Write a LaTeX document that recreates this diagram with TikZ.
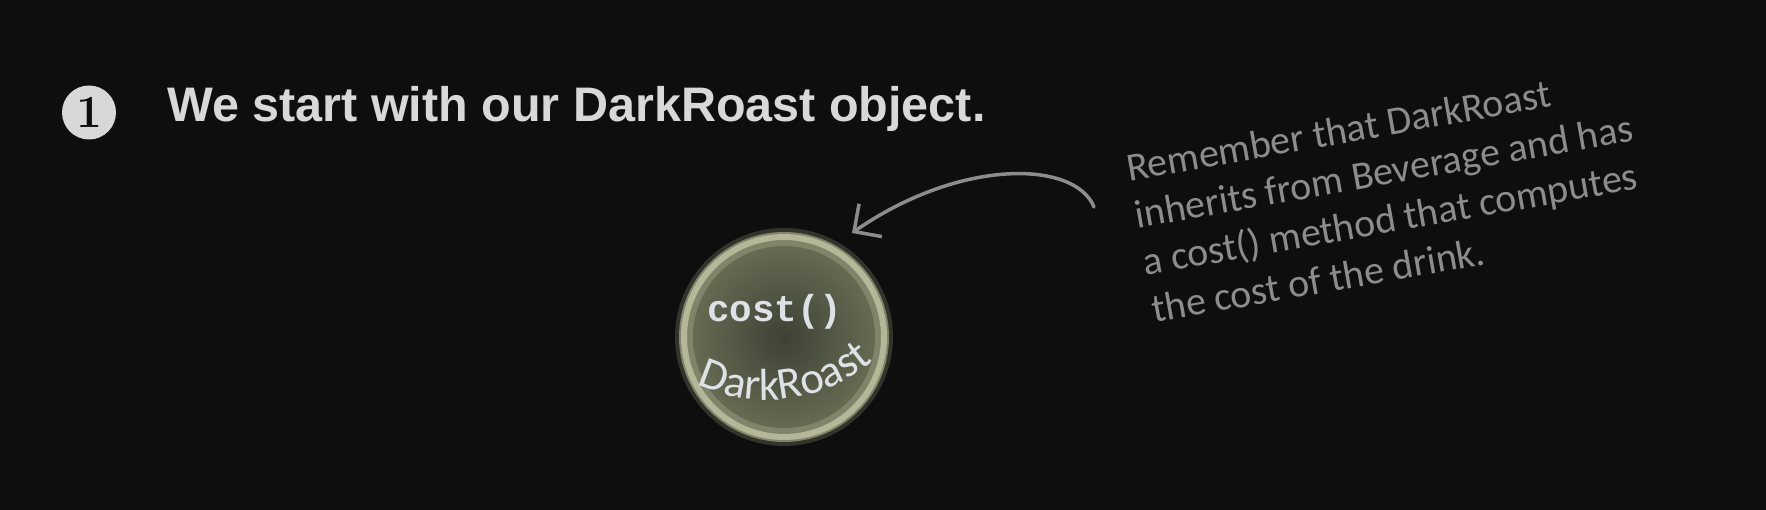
\documentclass[tikz,border=0pt]{standalone}
\usepackage{fontspec}
\usepackage{tikz}
\usetikzlibrary{arrows.meta, decorations.text}
\newfontfamily\headfont{Liberation Sans}
\newfontfamily\codefont{Liberation Mono}
\newfontfamily\handfont{Carlito}
\definecolor{bgdark}{HTML}{0E0E0E}
\definecolor{headgray}{HTML}{D8D8D8}
\definecolor{notegray}{HTML}{8C8C8C}
\definecolor{objhalo}{HTML}{4A4D3D}
\definecolor{objrim}{HTML}{C2C5A4}
\definecolor{objband}{HTML}{80846A}
\definecolor{objinner}{HTML}{3E4134}
\definecolor{objouter}{HTML}{666A52}
\definecolor{objtext}{HTML}{DDE2E6}

\begin{document}
\begin{tikzpicture}[x=1pt, y=1pt,
    stepdot/.style={circle, fill=headgray, minimum size=54pt, inner sep=0pt,
      font=\bfseries\fontsize{46}{46}\selectfont, text=bgdark},
    headline/.style={font=\headfont\bfseries\fontsize{48.5}{48.5}\selectfont,
      text=headgray, anchor=base west, inner sep=0pt},
    codelbl/.style={font=\codefont\bfseries\fontsize{37.5}{37.5}\selectfont,
      text=objtext, anchor=base west, inner sep=0pt},
    note/.style={font=\handfont\fontsize{40}{48}\selectfont, text=notegray,
      align=left, rotate=10, anchor=base west, inner sep=0pt}]
  \fill[bgdark] (0,0) rectangle (1766,510);
  \useasboundingbox (0,0) rectangle (1766,510);

  % step number and heading
  \node[stepdot] (stepone) at (89,397.5) {1};
  \node[headline] (heading) at (167,388) {We start with our DarkRoast object.};

  % the DarkRoast object
  \fill[objhalo, opacity=.6] (784,173) circle (109pt);
  \fill[objband] (784,173) circle (105pt);
  \draw[objrim, line width=6pt, opacity=.8] (784,173) circle (100pt);
  \shade[inner color=objinner, outer color=objouter] (784,173) circle (91pt);
  \node[circle, minimum size=210pt, inner sep=0pt] (darkroast) at (784,173) {};
  \node[codelbl] (costlbl) at (707,188) {cost()};
  \path[decorate, decoration={text along path, text align=center, text color=objtext,
      text={|\handfont\fontsize{45}{45}\selectfont|DarkRoast}}]
    (767,273) ++(242:163pt) arc[start angle=242, end angle=313, radius=163pt];

  % side note
  \node[note] (remember) at (1154,187) {Remember that DarkRoast\\
    inherits from Beverage and has\\a cost() method that computes\\the cost of the drink.};
  \coordinate (notestart) at (1094,303);
  \coordinate (objtip) at (852,277);
  \draw[notegray, line width=3.5pt, line cap=round,
      -{Straight Barb[length=20pt, width=40pt, line width=3.5pt]}]
    (notestart) .. controls (1075,350) and (960,352) .. (objtip);
\end{tikzpicture}
\end{document}
